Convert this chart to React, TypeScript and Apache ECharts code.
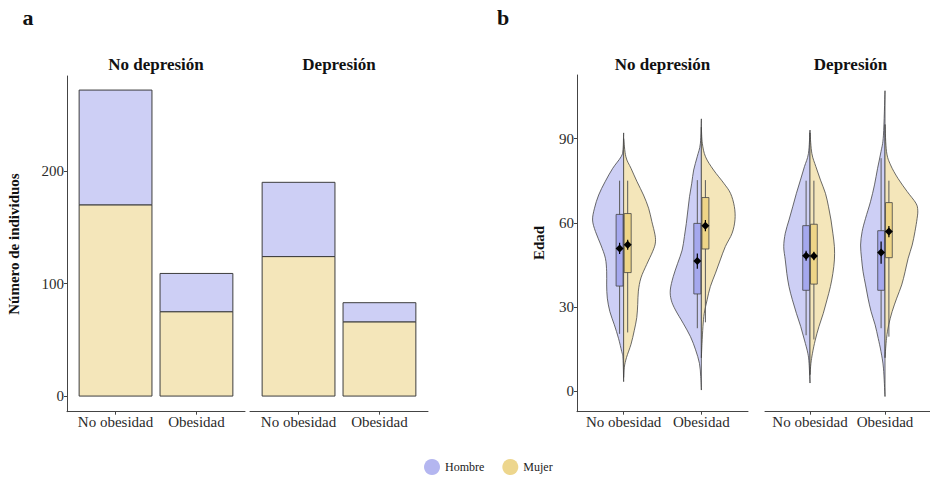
import React, { useEffect, useRef } from 'react';
import * as echarts from 'echarts';

// Categories
const obesityLevels = ['No obesidad', 'Obesidad'];
const depressionFacets = ['No depresión', 'Depresión'];
const sexes = ['Hombre', 'Mujer'];

// Number of individuals per obesity level: [No obesidad, Obesidad]
const mujerNoDep = [170, 75];
const hombreNoDep = [102, 34];
const mujerDep = [124, 66];
const hombreDep = [66, 17];

// Axis ticks
const countTicks = [0, 100, 200];
const ageTicks = [0, 30, 60, 90];

// Age density profiles, [age, relative density]
const densNoDepNoObH = [[3.5, 0], [11.9, 0.02], [14.2, 0.06], [18.9, 0.16], [23.7, 0.29], [28.4, 0.43], [33.2, 0.51], [37.9, 0.53], [42.6, 0.53], [47.4, 0.57], [52.1, 0.71], [56.9, 0.88], [61, 0.97], [65.2, 0.91], [69.9, 0.78], [74.6, 0.58], [79.4, 0.34], [83.5, 0.08], [86, 0.02], [92, 0]];
const densNoDepNoObM = [[5, 0], [8.6, 0.02], [12.1, 0.09], [16.8, 0.23], [21.6, 0.33], [26.3, 0.41], [31, 0.44], [35.7, 0.46], [40.4, 0.54], [45.2, 0.72], [49.9, 0.91], [52.8, 0.99], [55.7, 0.98], [60.5, 0.88], [65.2, 0.78], [69.9, 0.62], [74.6, 0.42], [79.4, 0.23], [83.5, 0.07], [90, 0]];
const densNoDepObH = [[0.5, 0], [5.3, 0.02], [10, 0.06], [14.8, 0.18], [19.5, 0.34], [24.3, 0.57], [29, 0.81], [32.5, 0.94], [36.1, 0.97], [40.8, 0.88], [45.6, 0.74], [50.3, 0.6], [55.1, 0.53], [59.8, 0.47], [64.6, 0.42], [69.3, 0.37], [74.1, 0.3], [78.8, 0.24], [83.5, 0.13], [88.3, 0.03], [97, 0]];
const densNoDepObM = [[12, 0], [17.1, 0.02], [23.1, 0.05], [27.8, 0.09], [32.6, 0.18], [37.3, 0.28], [42.1, 0.44], [46.8, 0.59], [51.6, 0.75], [56.3, 0.96], [61.1, 1.05], [65.8, 1.03], [70.5, 0.91], [74.1, 0.7], [78.8, 0.38], [83.5, 0.13], [88.3, 0.03], [94, 0]];
const densDepNoObH = [[3, 0], [10, 0.03], [13.6, 0.07], [18.3, 0.18], [23.1, 0.3], [27.8, 0.44], [32.6, 0.57], [37.3, 0.68], [42, 0.75], [46.8, 0.8], [51.5, 0.85], [56.3, 0.8], [61, 0.68], [65.7, 0.56], [70.5, 0.44], [75.2, 0.31], [80, 0.18], [84.7, 0.05], [93, 0]];
const densDepNoObM = [[6, 0], [10, 0.03], [13.6, 0.08], [18.3, 0.17], [23.1, 0.29], [27.8, 0.43], [32.6, 0.55], [37.3, 0.66], [42, 0.74], [46.8, 0.79], [51.5, 0.79], [56.3, 0.74], [61, 0.68], [65.7, 0.6], [70.5, 0.5], [75.2, 0.34], [80, 0.19], [84.7, 0.06], [92, 0]];
const densDepObH = [[-1.8, 0], [8.3, 0.05], [14.2, 0.13], [18.9, 0.22], [23.7, 0.32], [28.4, 0.45], [33.2, 0.55], [37.9, 0.63], [42.6, 0.71], [47.4, 0.76], [52.1, 0.79], [56.9, 0.74], [61.6, 0.63], [67.5, 0.47], [73.5, 0.34], [79.4, 0.24], [85.3, 0.13], [91.2, 0.05], [107, 0]];
const densDepObM = [[12, 0], [18.9, 0.05], [23.7, 0.12], [28.4, 0.23], [33.2, 0.38], [37.9, 0.54], [42.6, 0.65], [47.4, 0.75], [52.1, 0.88], [56.9, 0.97], [61.6, 1.04], [64.5, 1.06], [67, 1.0], [71.1, 0.72], [75.8, 0.42], [80.6, 0.18], [85.3, 0.05], [95, 0]];

// Box summaries per obesity level: [lower whisker, Q1, Q3, upper whisker]
const boxNoDepH = [[20.5, 37.5, 63, 75], [22.5, 34.7, 59.8, 75.2]];
const boxNoDepM = [[21, 42.3, 63.3, 75], [24.6, 50.7, 69, 75.2]];
const boxDepH = [[20, 36, 59, 75], [22.5, 36, 57.2, 83]];
const boxDepM = [[18.5, 38.2, 59.5, 75], [19.5, 47.6, 67.2, 75]];

// Mean age and standard error per obesity level
const meanNoDepH = [50.9, 46.4];
const seNoDepH = [2, 2.7];
const meanNoDepM = [52.2, 59.0];
const seNoDepM = [1.8, 2];
const meanDepH = [48.3, 49.4];
const seDepH = [1.8, 4];
const meanDepM = [48.2, 56.9];
const seDepM = [1.5, 2];

const FONT = 'Liberation Serif';
const AXIS_COLOR = '#444';
const TEXT_COLOR = '#2b2b2b';
const HOMBRE_FILL = '#CDCFF5';
const MUJER_FILL = '#F4E6BA';
const HOMBRE_BOX = '#A5A8EE';
const MUJER_BOX = '#EED587';
const BAR_HALF = 0.45;
const VIOLIN_HALF = 0.412;
const BOX_HALF = 0.045;
const BOX_OFFSET = 0.052;

function barSeries(name: string, gridIndex: number, base: number[], top: number[], color: string) {
  return {
    type: 'custom',
    name,
    xAxisIndex: gridIndex,
    yAxisIndex: gridIndex,
    data: obesityLevels.map((_, i) => [i + 1, base[i], top[i]]),
    encode: { x: 0, y: [1, 2] },
    renderItem: (params: any, api: any) => {
      const x = api.value(0);
      const p0 = api.coord([x - BAR_HALF, api.value(2)]);
      const p1 = api.coord([x + BAR_HALF, api.value(1)]);
      return {
        type: 'rect',
        shape: { x: p0[0], y: p0[1], width: p1[0] - p0[0], height: p1[1] - p0[1] },
        style: { fill: color, stroke: '#3d3d3d', lineWidth: 1 },
      };
    },
  };
}

function violinSeries(name: string, gridIndex: number, profiles: number[][][], side: number, color: string) {
  return {
    type: 'custom',
    name,
    xAxisIndex: gridIndex,
    yAxisIndex: gridIndex,
    data: profiles.map((_, i) => [i + 1, 0]),
    encode: { x: 0, y: 1 },
    renderItem: (params: any, api: any) => {
      const prof = profiles[params.dataIndex];
      const xc = api.value(0);
      const unit = api.size([1, 0])[0];
      const cx = api.coord([xc, 0])[0];
      const pts = prof.map(([age, d]) => [cx + side * d * VIOLIN_HALF * unit, api.coord([xc, age])[1]]);
      const clampX = (x: number) => (side * (x - cx) < 0 ? cx : x);
      let path = `M${pts[0][0]},${pts[0][1]}`;
      for (let i = 0; i < pts.length - 1; i++) {
        const p0 = pts[Math.max(i - 1, 0)];
        const p1 = pts[i];
        const p2 = pts[i + 1];
        const p3 = pts[Math.min(i + 2, pts.length - 1)];
        const c1x = clampX(p1[0] + (p2[0] - p0[0]) / 6);
        const c1y = p1[1] + (p2[1] - p0[1]) / 6;
        const c2x = clampX(p2[0] - (p3[0] - p1[0]) / 6);
        const c2y = p2[1] - (p3[1] - p1[1]) / 6;
        path += ` C${c1x},${c1y} ${c2x},${c2y} ${p2[0]},${p2[1]}`;
      }
      path += ' Z';
      return {
        type: 'path',
        shape: { pathData: path },
        style: { fill: color, stroke: '#454545', lineWidth: 0.8 },
      };
    },
  };
}

function boxSeries(
  name: string,
  gridIndex: number,
  boxes: number[][],
  means: number[],
  ses: number[],
  offset: number,
  color: string
) {
  return {
    type: 'custom',
    name,
    xAxisIndex: gridIndex,
    yAxisIndex: gridIndex,
    data: boxes.map((b, i) => [i + 1 + offset, b[0], b[1], b[2], b[3], means[i], ses[i]]),
    encode: { x: 0, y: [1, 4] },
    renderItem: (params: any, api: any) => {
      const x = api.value(0);
      const lo = api.coord([x, api.value(1)]);
      const q1 = api.coord([x, api.value(2)]);
      const q3 = api.coord([x, api.value(3)]);
      const hi = api.coord([x, api.value(4)]);
      const mean = api.value(5);
      const se = api.value(6);
      const m = api.coord([x, mean]);
      const eLo = api.coord([x, mean - se]);
      const eHi = api.coord([x, mean + se]);
      const left = api.coord([x - BOX_HALF, 0])[0];
      const right = api.coord([x + BOX_HALF, 0])[0];
      const r = 4;
      return {
        type: 'group',
        children: [
          {
            type: 'line',
            shape: { x1: lo[0], y1: lo[1], x2: hi[0], y2: hi[1] },
            style: { stroke: '#5a5a5a', lineWidth: 1 },
          },
          {
            type: 'rect',
            shape: { x: left, y: q3[1], width: right - left, height: q1[1] - q3[1] },
            style: { fill: color, stroke: '#444', lineWidth: 0.8 },
          },
          {
            type: 'line',
            shape: { x1: eLo[0], y1: eLo[1], x2: eHi[0], y2: eHi[1] },
            style: { stroke: '#000', lineWidth: 1.2 },
          },
          {
            type: 'polygon',
            shape: { points: [[m[0], m[1] - r], [m[0] + r, m[1]], [m[0], m[1] + r], [m[0] - r, m[1]]] },
            style: { fill: '#000' },
          },
        ],
      };
    },
  };
}

const labelStyle = { fontFamily: FONT, fontSize: 15, color: TEXT_COLOR };

function xAxis(gridIndex: number) {
  return {
    gridIndex,
    type: 'value',
    min: 0.4,
    max: 2.6,
    axisLine: { show: true, onZero: false, lineStyle: { color: AXIS_COLOR, width: 1 } },
    axisTick: { show: true, customValues: [1, 2], length: 3, lineStyle: { color: AXIS_COLOR } },
    axisLabel: {
      customValues: [1, 2],
      formatter: (v: number) => obesityLevels[Math.round(v) - 1],
      margin: 3,
      ...labelStyle,
    },
    splitLine: { show: false },
  };
}

function yAxis(gridIndex: number, min: number, max: number, ticks: number[], visible: boolean) {
  return {
    gridIndex,
    type: 'value',
    min,
    max,
    show: visible,
    axisLine: { show: true, onZero: false, lineStyle: { color: AXIS_COLOR, width: 1 } },
    axisTick: { show: true, customValues: ticks, length: 3, lineStyle: { color: AXIS_COLOR } },
    axisLabel: { customValues: ticks, margin: 3, ...labelStyle },
    splitLine: { show: false },
  };
}

function text(t: string, x: number, y: number, size: number, rotation = 0) {
  return {
    type: 'text',
    x,
    y,
    rotation,
    style: {
      text: t,
      fontFamily: FONT,
      fontSize: size,
      fontWeight: 'bold',
      fill: '#111',
      textAlign: 'center',
      textVerticalAlign: 'middle',
    },
  };
}

function buildOption() {
  const sum = (a: number[], b: number[]) => a.map((v, i) => v + b[i]);
  const zeros = [0, 0];
  return {
    animation: false,
    backgroundColor: '#fff',
    grid: [
      { left: 67, top: 76, width: 178, height: 335.7 },
      { left: 250, top: 76, width: 178, height: 335.7 },
      { left: 577, top: 75, width: 171, height: 336.7 },
      { left: 765, top: 75, width: 171, height: 336.7 },
    ],
    xAxis: [xAxis(0), xAxis(1), xAxis(2), xAxis(3)],
    yAxis: [
      yAxis(0, -13.9, 284.5, countTicks, true),
      yAxis(1, -13.9, 284.5, countTicks, false),
      yAxis(2, -7.2, 112.6, ageTicks, true),
      yAxis(3, -7.2, 112.6, ageTicks, false),
    ],
    legend: {
      left: 424,
      top: 459,
      padding: 0,
      icon: 'circle',
      itemWidth: 16,
      itemHeight: 16,
      itemGap: 18,
      selectedMode: false,
      textStyle: { fontFamily: FONT, fontSize: 12, color: '#222' },
      data: [
        { name: sexes[0], itemStyle: { color: '#B4B6F0', borderWidth: 0 } },
        { name: sexes[1], itemStyle: { color: '#EDD68D', borderWidth: 0 } },
      ],
    },
    graphic: [
      text('a', 28, 17, 22),
      text('b', 503, 17, 22),
      text(depressionFacets[0], 156, 64, 17),
      text(depressionFacets[1], 339, 64, 17),
      text(depressionFacets[0], 662.5, 64, 17),
      text(depressionFacets[1], 850.5, 64, 17),
      text('Número de individuos', 14, 244, 15, Math.PI / 2),
      text('Edad', 539, 243, 15, Math.PI / 2),
    ],
    series: [
      // a: stacked counts
      barSeries(sexes[1], 0, zeros, mujerNoDep, MUJER_FILL),
      barSeries(sexes[0], 0, mujerNoDep, sum(mujerNoDep, hombreNoDep), HOMBRE_FILL),
      barSeries(sexes[1], 1, zeros, mujerDep, MUJER_FILL),
      barSeries(sexes[0], 1, mujerDep, sum(mujerDep, hombreDep), HOMBRE_FILL),
      // b: split violins of age
      violinSeries(sexes[0], 2, [densNoDepNoObH, densNoDepObH], -1, HOMBRE_FILL),
      violinSeries(sexes[1], 2, [densNoDepNoObM, densNoDepObM], 1, MUJER_FILL),
      violinSeries(sexes[0], 3, [densDepNoObH, densDepObH], -1, HOMBRE_FILL),
      violinSeries(sexes[1], 3, [densDepNoObM, densDepObM], 1, MUJER_FILL),
      boxSeries(sexes[0], 2, boxNoDepH, meanNoDepH, seNoDepH, -BOX_OFFSET, HOMBRE_BOX),
      boxSeries(sexes[1], 2, boxNoDepM, meanNoDepM, seNoDepM, BOX_OFFSET, MUJER_BOX),
      boxSeries(sexes[0], 3, boxDepH, meanDepH, seDepH, -BOX_OFFSET, HOMBRE_BOX),
      boxSeries(sexes[1], 3, boxDepM, meanDepM, seDepM, BOX_OFFSET, MUJER_BOX),
    ],
  };
}

export default function App() {
  const ref = useRef<HTMLDivElement>(null);
  useEffect(() => {
    document.body.style.margin = '0';
    const chart = echarts.init(ref.current!, null, { renderer: 'svg' });
    chart.setOption(buildOption() as any);
    return () => chart.dispose();
  }, []);
  return <div ref={ref} style={{ position: 'absolute', left: 0, top: 0, width: 930, height: 477 }} />;
}
